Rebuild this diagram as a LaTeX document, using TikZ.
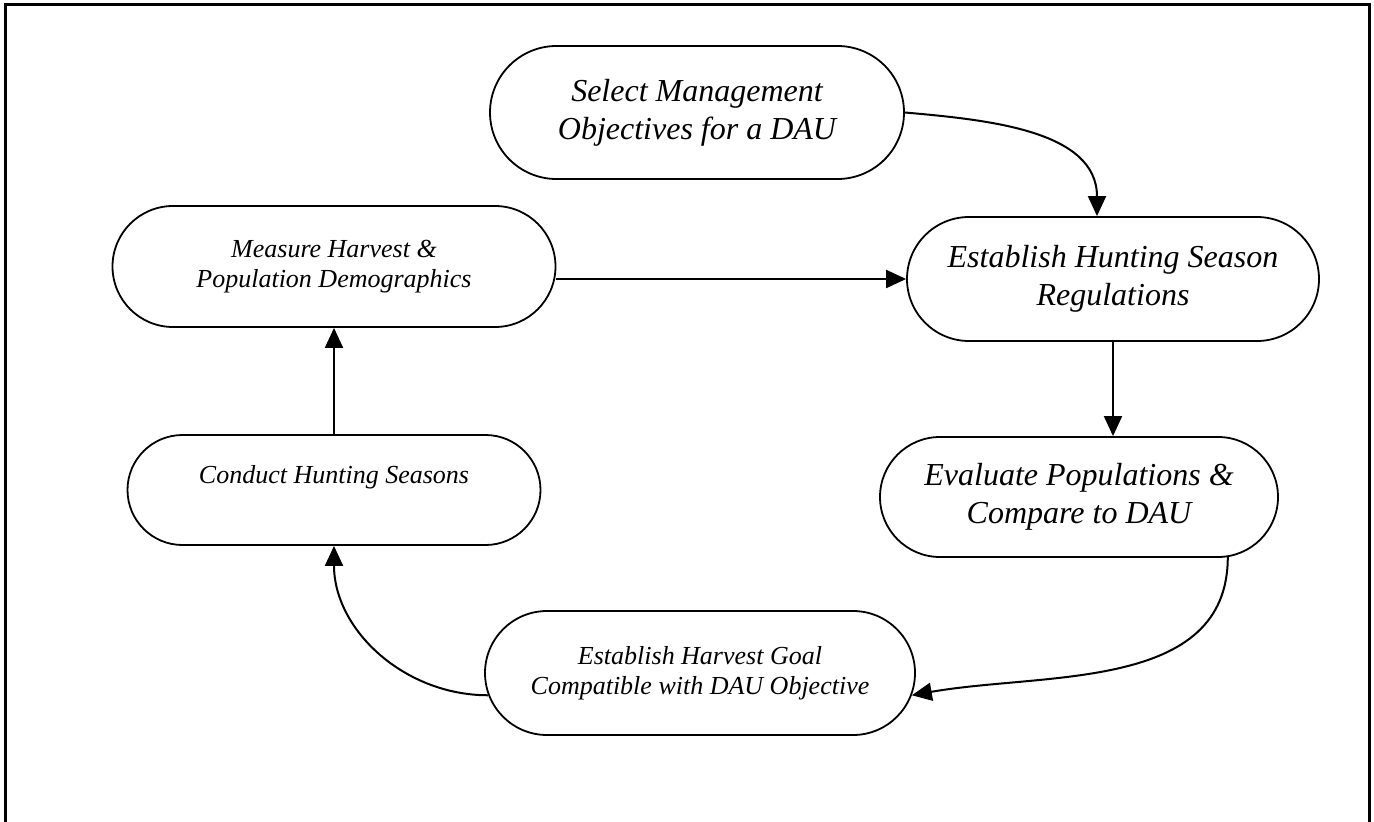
\documentclass[tikz,border=0pt]{standalone}
\usepackage{fontspec}
\setmainfont{Liberation Serif}
\usetikzlibrary{arrows.meta,shapes.misc,calc}
\begin{document}
\begin{tikzpicture}[x=1pt,y=1pt,
  stage/.style={rounded rectangle, draw, line width=1.8pt, align=center, inner sep=0pt},
  bigtext/.style={font=\fontsize{32}{38}\selectfont\itshape},
  smalltext/.style={font=\fontsize{26}{30}\selectfont\itshape},
  flow/.style={line width=2pt, -{Triangle[length=20pt,width=18pt]}}]
\useasboundingbox (0,0) rectangle (1374,-822);
% outer frame (open at the bottom of the page)
\draw[line width=3pt] (5.5,-830) -- (5.5,-4.5) -- (1369.5,-4.5) -- (1369.5,-830);

% management cycle stages
\node[stage, bigtext, minimum width=414pt, minimum height=133pt] (sel) at (697,-112.5)
  {Select Management\\Objectives for a DAU};
\node[stage, bigtext, minimum width=412pt, minimum height=124pt] (reg) at (1113,-279)
  {Establish Hunting Season\\Regulations};
\node[stage, bigtext, minimum width=398pt, minimum height=120pt] (eva) at (1079,-497)
  {Evaluate Populations \&\\Compare to DAU};
\node[stage, smalltext, minimum width=430pt, minimum height=124pt] (goal) at (700,-673)
  {Establish Harvest Goal\\Compatible with DAU Objective};
\node[stage, smalltext, minimum width=413pt, minimum height=110pt, text depth=32pt] (con) at (334,-490)
  {Conduct Hunting Seasons};
\node[stage, smalltext, minimum width=443pt, minimum height=121pt] (mea) at (334,-266.5)
  {Measure Harvest \&\\Population Demographics};

% connectors
\draw[flow] (sel.east) to[out=-5,in=90] ($(reg.north)+(-16,0)$);
\draw[flow] (mea.east |- reg.west) -- (reg.west);
\draw[flow] (reg.south) -- (reg.south |- eva.north);
\draw[flow] (eva.-22) to[out=-90,in=10] (goal.-6);
\draw[flow] (goal.186) to[out=180,in=-90] (con.south);
\draw[flow] (con.north) -- (mea.south);
\end{tikzpicture}
\end{document}
